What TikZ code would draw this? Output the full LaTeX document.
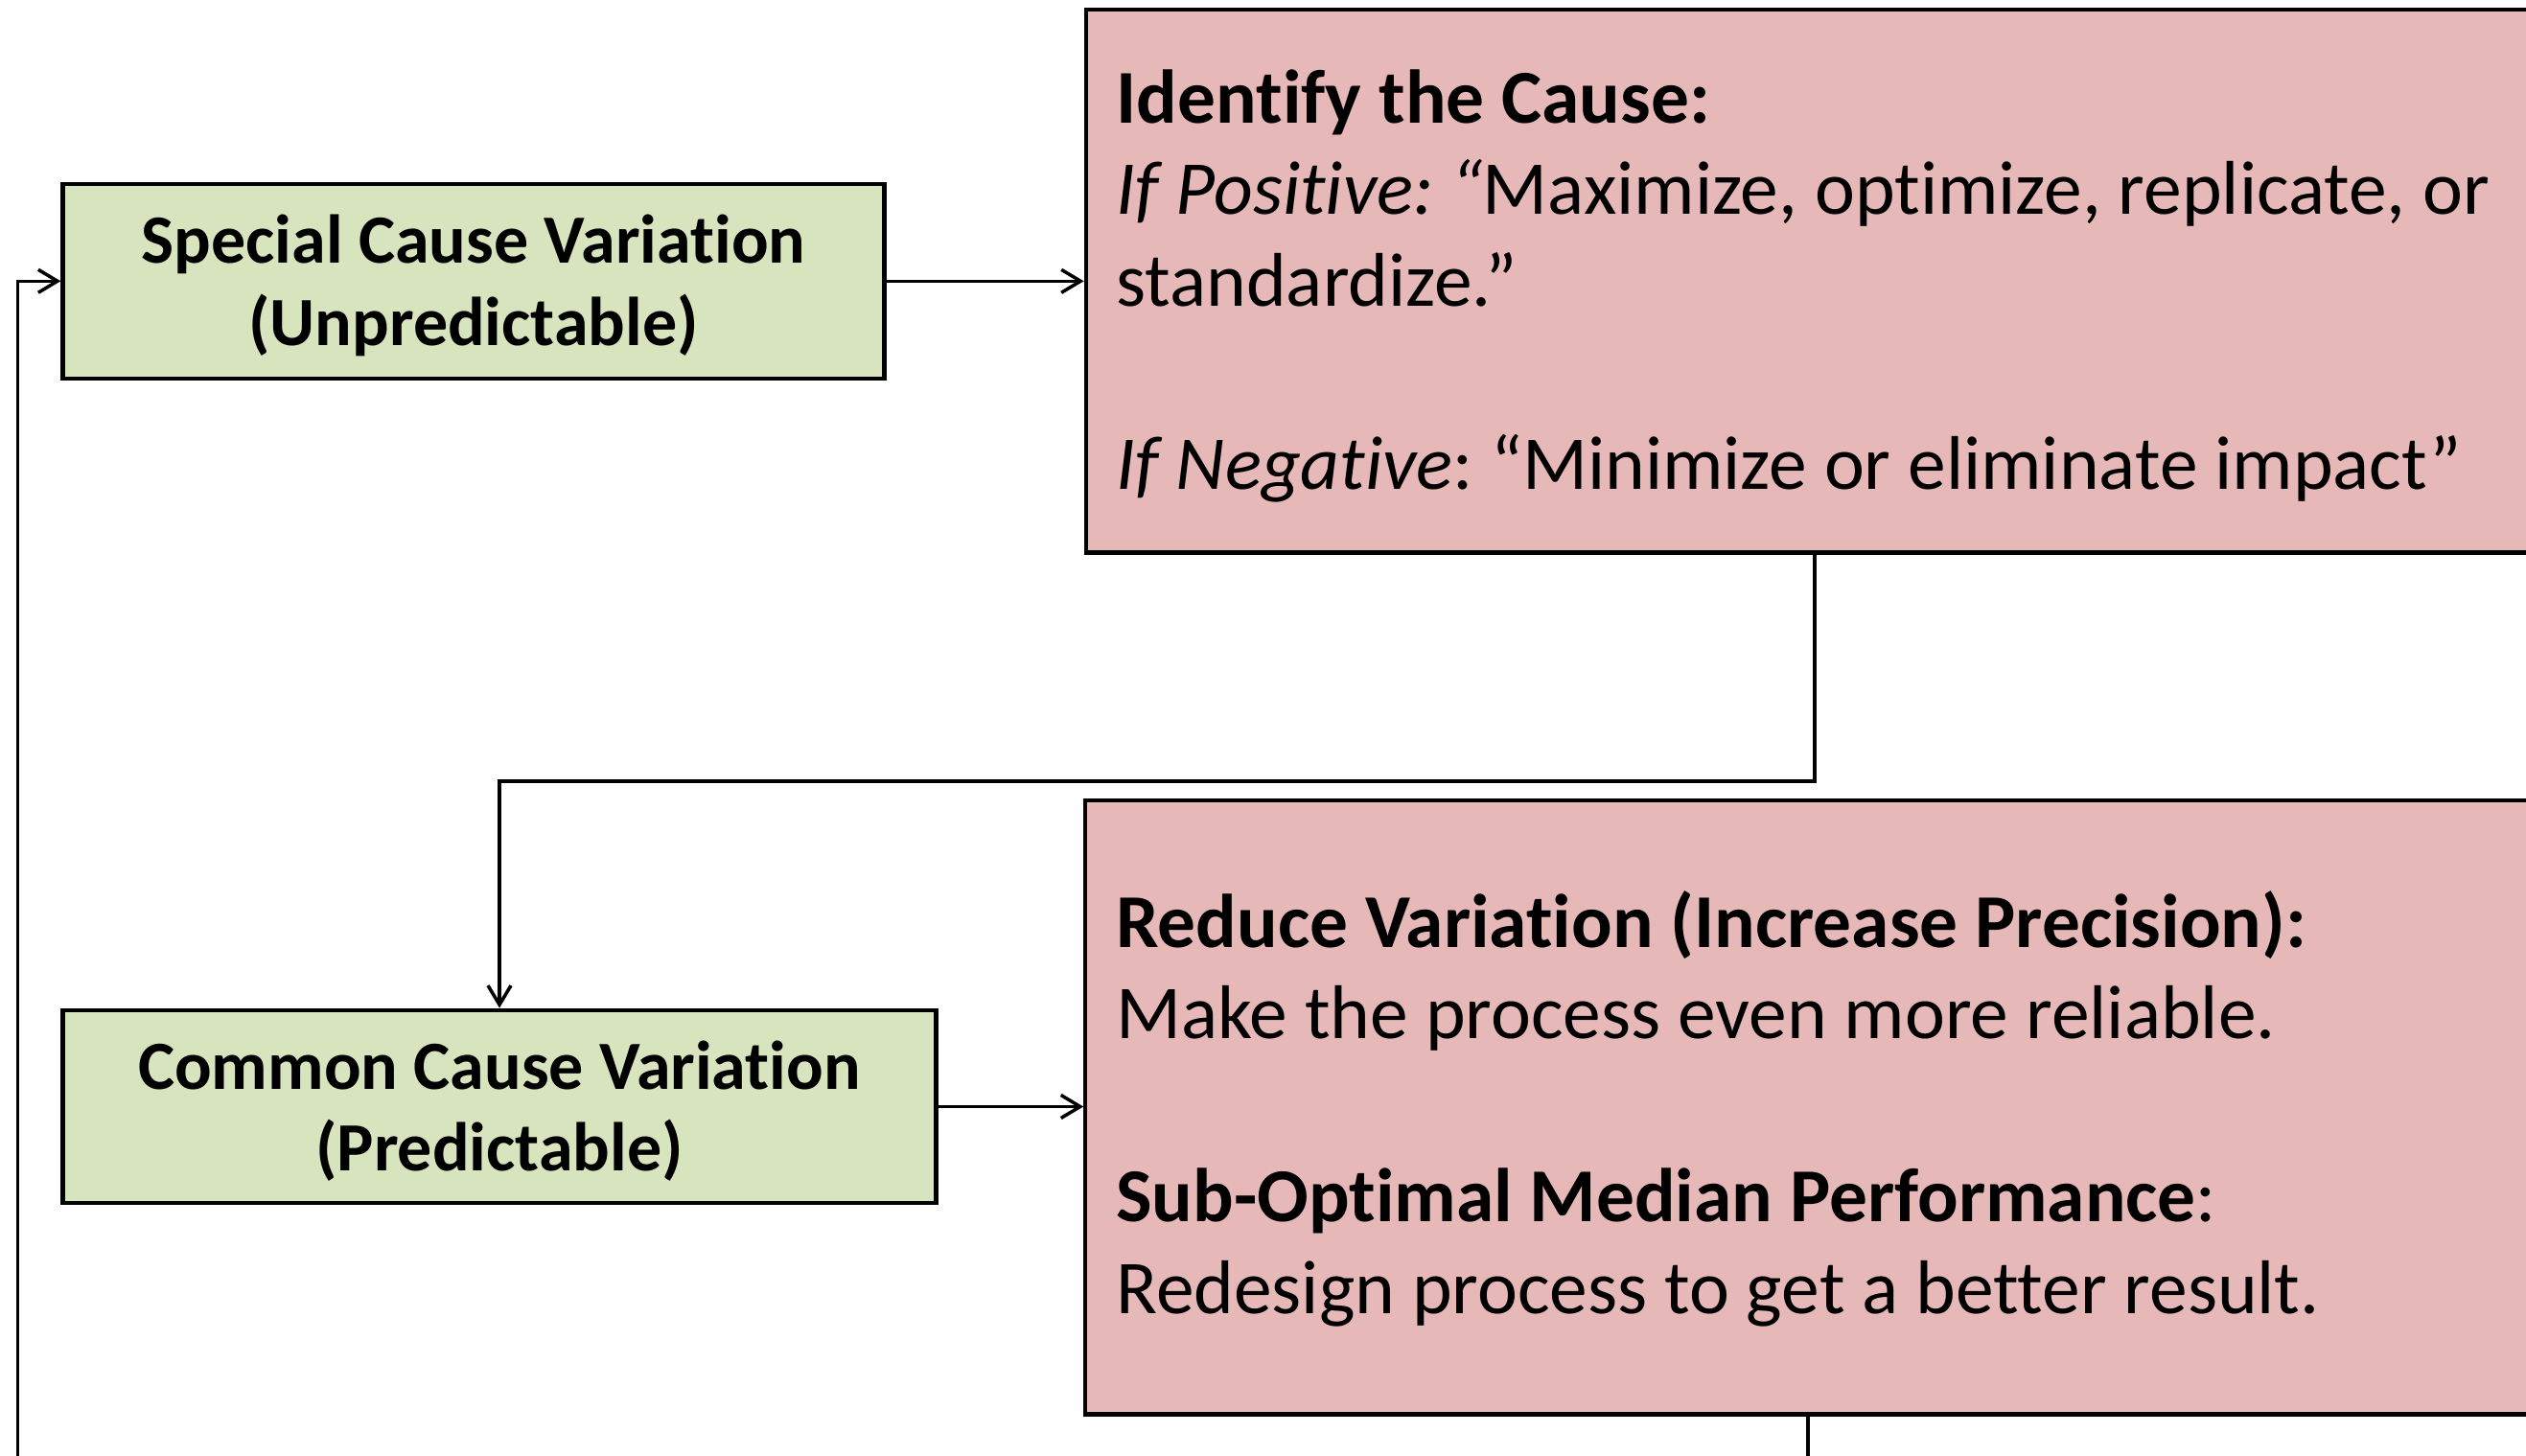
\documentclass[tikz,border=0pt]{standalone}
\usepackage{fontspec}
\setmainfont{Carlito}[Ligatures=NoCommon]
\usetikzlibrary{arrows.meta,calc}
\definecolor{causegreen}{HTML}{D7E4BD}
\definecolor{actionpink}{HTML}{E6B9B8}
\tikzset{
  causebox/.style={draw=black,line width=1.2pt,fill=causegreen,align=flush center,inner sep=0pt,
    text height=0.6cm,text depth=0.966cm,font=\bfseries\fontsize{20.5}{24.4}\selectfont\frenchspacing},
  actionbox/.style={draw=black,line width=1.2pt,fill=actionpink,align=flush left,inner xsep=0.32cm,inner ysep=0pt,
    text height=0.8cm,font=\fontsize{22.6}{27.2}\selectfont\frenchspacing},
  flow/.style={line width=1pt,-{Straight Barb[length=2mm,width=2.4mm]}}
}
\begin{document}
\begin{tikzpicture}
\useasboundingbox (0,0) rectangle (26.35,-15.19);
\clip (0,0) rectangle (26.35,-15.19);
            % Variation
\node[causebox,minimum width=8.571cm,minimum height=2.033cm,text width=8.5cm] (special) at (4.94,-2.933)
  {Special Cause Variation\\(Unpredictable)};
\node[causebox,minimum width=9.109cm,minimum height=2.016cm,text width=9cm] (common) at (5.21,-11.545)
  {Common Cause Variation\\(Predictable)};
            % Actions
\node[actionbox,minimum height=5.664cm,text width=14.566cm,text depth=4.1cm] (identify) at (18.93,-2.932)
  {\textbf{Identify the Cause:}\\
   \textit{If Positive: “}Maximize, optimize, replicate, or\\
   standardize.”\\[27.2pt]
   \textit{If Negative}: “Minimize or eliminate impact”};
\node[actionbox,minimum height=6.403cm,text width=14.434cm,text depth=4.147cm] (reduce) at (18.86,-11.554)
  {\textbf{Reduce Variation (Increase Precision):}\\
   Make the process even more reliable.\\[27.2pt]
   \textbf{Sub-Optimal Median Performance}:\\
   Redesign process to get a better result.};
\coordinate (loop) at (0.185,-16.3);
%Connectors
\draw[flow] (special.east) -- (special.east -| identify.west);%to action
\draw[flow] (identify.south) |- ($(identify.south)!0.5!(common.north)$) -| (common.north);%elbow
\draw[flow] (common.east) -- (common.east -| reduce.west);%to action
\draw[flow] (reduce.south) |- (loop) |- (special.west);%back
\end{tikzpicture}
\end{document}
